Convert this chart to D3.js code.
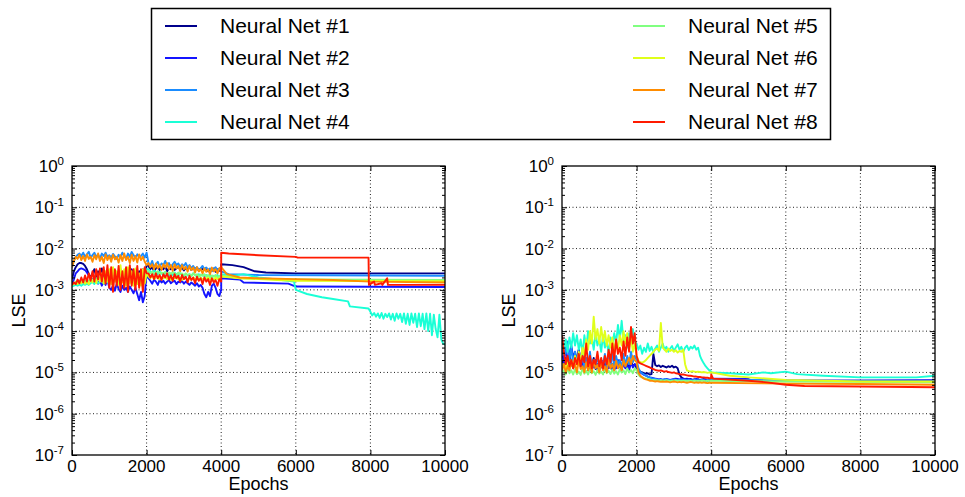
<!DOCTYPE html>
<html>
<head>
<meta charset="utf-8">
<script src="https://cdn.jsdelivr.net/npm/d3@7"></script>
<style>
  html, body { margin: 0; padding: 0; background: #fff; overflow: hidden; }
  svg { display: block; }
  text { font-family: "Liberation Sans", Arial, sans-serif; }
</style>
</head>
<body>
<div id="chart"></div>
<script>
const svgWidth = 965;
const svgHeight = 497;

const netNames = ['Neural Net #1', 'Neural Net #2', 'Neural Net #3', 'Neural Net #4',
                  'Neural Net #5', 'Neural Net #6', 'Neural Net #7', 'Neural Net #8'];
const netColors = ['#00008c', '#1414ff', '#1a8cff', '#1affd6', '#80ff80', '#e0ff1a', '#ff8c00', '#ff1a00'];

const epochTicks = [0, 2000, 4000, 6000, 8000, 10000];
const lseTicks = [1e0, 1e-1, 1e-2, 1e-3, 1e-4, 1e-5, 1e-6, 1e-7];

// values below are log10(LSE)
// "early" arrays: epochs 0..4000 every 50, "late" arrays: [epoch, log10] from 4000 on

// left panel
const leftNet1Early = [-2.75,-2.55,-2.45,-2.38,-2.35,-2.35,-2.37,-2.42,-2.5,-2.62,-2.7,
  -2.6,-2.5,-2.68,-2.55,-2.62,-2.48,-2.7,-2.58,-2.52,-2.66,-2.6,-2.5,-2.72,-2.56,-2.64,-2.5,-2.7,-2.6,-2.54,-2.68,-2.58,-2.5,-2.66,-2.6,-2.72,-2.55,-2.62,-2.5,-2.68,-2.4,
  -2.42,-2.5,-2.45,-2.55,-2.48,-2.44,-2.52,-2.46,-2.5,-2.43,-2.55,-2.47,-2.5,-2.45,-2.52,-2.48,-2.44,-2.5,-2.46,-2.53,-2.47,-2.5,-2.44,-2.52,-2.48,-2.5,-2.46,-2.54,-2.48,-2.5,-2.52,-2.47,-2.55,-2.5,-2.53,-2.48,-2.56,-2.5,-2.54,-2.45];
const leftNet1Late = [[4000,-2.38],[4300,-2.4],[4600,-2.45],[4900,-2.55],[5200,-2.58],[6000,-2.6],[10000,-2.6]];

const leftNet2Early = [-2.85,-2.75,-2.6,-2.55,-2.5,-2.48,-2.5,-2.52,-2.58,-2.65,-2.7,-2.75,-2.8,-2.72,-2.85,-2.78,-2.9,-2.8,-2.88,-2.75,-2.95,-3.0,-2.9,-3.02,-2.85,-2.98,-3.05,-2.9,-3.0,-2.95,-3.05,-2.92,-3.0,-3.08,-2.95,-3.1,-3.25,-3.05,-3.3,-3.15,-2.6,
  -2.72,-2.78,-2.85,-2.75,-2.8,-2.88,-2.76,-2.82,-2.78,-2.85,-2.8,-2.76,-2.84,-2.8,-2.78,-2.86,-2.8,-2.82,-2.78,-2.85,-2.8,-2.84,-2.88,-2.82,-2.86,-2.9,-2.84,-2.92,-2.88,-2.95,-3.1,-3.18,-3.05,-3.15,-2.9,-2.85,-2.95,-3.1,-3.15,-3.0];
const leftNet2Late = [[4000,-2.72],[4500,-2.75],[4600,-2.82],[5800,-2.85],[6000,-2.92],[10000,-2.93]];

const leftNet3Early = [-2.45,-2.3,-2.2,-2.15,-2.12,-2.18,-2.1,-2.2,-2.14,-2.08,-2.22,-2.16,-2.1,-2.2,-2.15,-2.24,-2.12,-2.18,-2.1,-2.2,-2.16,-2.22,-2.13,-2.19,-2.25,-2.15,-2.2,-2.1,-2.18,-2.24,-2.12,-2.2,-2.08,-2.16,-2.22,-2.14,-2.2,-2.18,-2.12,-2.22,-2.1,
  -2.35,-2.42,-2.3,-2.45,-2.38,-2.32,-2.44,-2.36,-2.4,-2.3,-2.42,-2.35,-2.45,-2.38,-2.32,-2.4,-2.36,-2.44,-2.38,-2.42,-2.35,-2.45,-2.4,-2.48,-2.42,-2.5,-2.45,-2.52,-2.48,-2.42,-2.5,-2.46,-2.52,-2.48,-2.55,-2.5,-2.45,-2.52,-2.48,-2.55];
const leftNet3Late = [[4000,-2.55],[4200,-2.62],[5000,-2.64],[10000,-2.66]];

const leftNet4Early = [-2.92,-2.9,-2.88,-2.9,-2.87,-2.9,-2.86,-2.88,-2.85,-2.88,-2.84,-2.8,-2.86,-2.78,-2.84,-2.8,-2.75,-2.85,-2.78,-2.82,-2.76,-2.84,-2.8,-2.74,-2.82,-2.78,-2.85,-2.76,-2.8,-2.84,-2.78,-2.82,-2.75,-2.8,-2.86,-2.78,-2.82,-2.76,-2.84,-2.8,-2.5,
  -2.5,-2.55,-2.6,-2.52,-2.58,-2.62,-2.56,-2.6,-2.64,-2.58,-2.62,-2.66,-2.6,-2.64,-2.58,-2.62,-2.66,-2.6,-2.63,-2.67,-2.61,-2.65,-2.62,-2.66,-2.6,-2.64,-2.68,-2.62,-2.66,-2.63,-2.67,-2.64,-2.68,-2.65,-2.7,-2.66,-2.68,-2.64,-2.7,-2.66];
const leftNet4Late = [[4000,-2.62],[4300,-2.66],[4600,-2.62],[5000,-2.7],[5500,-2.75],[5950,-2.8],[6000,-3.0],[6300,-3.1],[6700,-3.18],[7000,-3.22],[7400,-3.28],[7450,-3.4],[7950,-3.45],[8000,-3.53],
  [8050,-3.62],[8100,-3.56],[8150,-3.65],[8200,-3.57],[8250,-3.68],[8300,-3.56],[8350,-3.7],[8400,-3.58],[8450,-3.66],[8500,-3.57],[8550,-3.72],[8600,-3.58],[8650,-3.75],[8700,-3.57],[8750,-3.7],[8800,-3.58],[8850,-3.78],[8900,-3.57],[8950,-3.82],[9000,-3.58],
  [9050,-3.85],[9100,-3.57],[9150,-3.8],[9200,-3.58],[9250,-3.9],[9300,-3.57],[9350,-3.88],[9400,-3.58],[9450,-3.95],[9500,-3.57],[9550,-4.0],[9600,-3.58],[9650,-4.1],[9700,-3.6],[9750,-3.95],[9800,-4.15],[9850,-3.6],
  [9900,-4.2],[9950,-4.3],[10000,-4.33]];

const leftNet5Early = [-2.9,-2.85,-2.8,-2.82,-2.78,-2.84,-2.76,-2.8,-2.74,-2.82,-2.7,-2.78,-2.72,-2.8,-2.68,-2.76,-2.7,-2.82,-2.66,-2.75,-2.7,-2.8,-2.68,-2.76,-2.72,-2.82,-2.7,-2.78,-2.66,-2.76,-2.72,-2.8,-2.68,-2.75,-2.7,-2.8,-2.72,-2.78,-2.7,-2.76,-2.55,
  -2.55,-2.6,-2.56,-2.62,-2.58,-2.55,-2.62,-2.58,-2.6,-2.56,-2.63,-2.58,-2.62,-2.57,-2.6,-2.64,-2.58,-2.62,-2.6,-2.65,-2.6,-2.64,-2.62,-2.66,-2.6,-2.65,-2.62,-2.68,-2.63,-2.66,-2.62,-2.68,-2.64,-2.7,-2.65,-2.68,-2.64,-2.7,-2.66,-2.68];
const leftNet5Late = [[4000,-2.65],[4500,-2.72],[6000,-2.75],[10000,-2.76]];

const leftNet6Early = [-2.88,-2.85,-2.82,-2.86,-2.8,-2.84,-2.78,-2.85,-2.8,-2.86,-2.75,-2.82,-2.7,-2.84,-2.65,-2.8,-2.6,-2.85,-2.55,-2.8,-2.5,-2.86,-2.45,-2.8,-2.55,-2.88,-2.4,-2.82,-2.5,-2.9,-2.45,-2.85,-2.55,-2.9,-2.48,-2.86,-2.6,-2.9,-2.5,-2.85,-2.6,
  -2.68,-2.72,-2.66,-2.74,-2.7,-2.68,-2.75,-2.7,-2.72,-2.68,-2.74,-2.7,-2.76,-2.7,-2.72,-2.68,-2.74,-2.7,-2.76,-2.72,-2.7,-2.75,-2.72,-2.76,-2.7,-2.74,-2.72,-2.76,-2.7,-2.75,-2.72,-2.74,-2.7,-2.76,-2.72,-2.75,-2.7,-2.74,-2.72,-2.7];
const leftNet6Late = [[4000,-2.68],[4500,-2.72],[5500,-2.76],[6000,-2.78],[10000,-2.79]];

const leftNet7Early = [-2.45,-2.3,-2.2,-2.25,-2.15,-2.28,-2.18,-2.3,-2.14,-2.25,-2.2,-2.32,-2.16,-2.26,-2.12,-2.3,-2.2,-2.35,-2.14,-2.28,-2.18,-2.32,-2.15,-2.26,-2.2,-2.34,-2.16,-2.3,-2.12,-2.28,-2.2,-2.35,-2.15,-2.3,-2.18,-2.34,-2.14,-2.28,-2.2,-2.32,-2.4,
  -2.35,-2.45,-2.38,-2.5,-2.36,-2.48,-2.4,-2.52,-2.38,-2.46,-2.35,-2.5,-2.4,-2.54,-2.38,-2.48,-2.42,-2.55,-2.4,-2.5,-2.44,-2.56,-2.42,-2.52,-2.46,-2.58,-2.45,-2.55,-2.5,-2.6,-2.48,-2.56,-2.5,-2.62,-2.46,-2.55,-2.5,-2.6,-2.48,-2.45];
const leftNet7Late = [[4000,-2.45],[4150,-2.62],[4500,-2.7],[5000,-2.72],[6000,-2.74],[7000,-2.76],[8000,-2.8],[10000,-2.82]];

const leftNet8Early = [-2.88,-2.82,-2.86,-2.75,-2.84,-2.7,-2.82,-2.65,-2.8,-2.6,-2.78,-2.55,-2.8,-2.5,-2.75,-2.48,-2.8,-2.45,-2.85,-2.4,-2.95,-2.45,-3.05,-2.5,-2.9,-2.42,-3.0,-2.55,-2.95,-2.45,-3.05,-2.4,-2.9,-2.5,-3.0,-2.42,-2.95,-2.5,-3.05,-2.45,-2.6,
  -2.6,-2.7,-2.62,-2.74,-2.6,-2.72,-2.64,-2.76,-2.62,-2.7,-2.6,-2.75,-2.65,-2.78,-2.62,-2.72,-2.66,-2.8,-2.64,-2.74,-2.68,-2.82,-2.66,-2.76,-2.7,-2.84,-2.68,-2.78,-2.72,-2.86,-2.7,-2.8,-2.74,-2.88,-2.72,-2.82,-2.76,-2.9,-2.74,-2.8];
const leftNet8Late = [[4000,-2.1],[4200,-2.12],[5000,-2.16],[6000,-2.2],[6050,-2.22],[7950,-2.22],[7960,-2.88],[8100,-2.8],[8120,-2.88],[8300,-2.84],[8320,-2.88],[8450,-2.72],[8470,-2.88],[10000,-2.88]];

// right panel
const rightNet1Early = [-4.7,-4.8,-4.65,-4.85,-4.6,-4.75,-4.9,-4.55,-4.7,-4.45,-4.8,-4.6,-4.88,-4.7,-4.95,-4.75,-4.85,-4.65,-4.92,-4.8,-4.95,-4.7,-4.88,-4.78,-4.95,-4.72,-4.9,-4.8,-4.95,-4.7,-4.88,-4.75,-4.92,-4.68,-4.85,-4.78,-4.9,-4.72,-4.85,-4.8,-4.9,
  -4.95,-4.98,-5.0,-5.02,-5.03,-5.02,-5.05,-5.04,-4.55,-4.82,-4.85,-4.83,-4.87,-4.84,-4.86,-4.88,-4.85,-4.87,-4.84,-4.88,-4.86,-4.9,-5.05,-5.12,-5.15,-5.16,-5.15,-5.17,-5.16,-5.18,-5.17,-5.18,-5.17,-5.19,-5.18,-5.19,-5.18,-5.2,-5.19,-5.18];
const rightNet1Late = [[4000,-5.18],[5000,-5.2],[10000,-5.2]];

const rightNet2Early = [-4.5,-4.75,-4.4,-4.7,-4.55,-4.35,-4.65,-4.5,-4.8,-4.45,-4.7,-4.9,-4.6,-4.85,-4.7,-4.92,-4.75,-4.88,-4.7,-4.95,-4.8,-4.88,-4.72,-4.95,-4.82,-4.9,-4.75,-4.95,-4.8,-4.9,-4.7,-4.85,-4.95,-4.78,-4.9,-4.82,-4.95,-4.75,-4.88,-4.8,-4.85,
  -4.95,-5.0,-5.03,-5.06,-5.08,-5.1,-5.12,-5.13,-5.14,-5.15,-5.16,-5.17,-5.16,-5.18,-5.17,-5.16,-5.17,-5.18,-5.17,-5.16,-5.15,-5.16,-5.17,-5.16,-5.15,-5.16,-5.17,-5.16,-5.17,-5.18,-5.17,-5.16,-5.17,-5.18,-5.17,-5.16,-5.17,-5.18,-5.17,-5.15];
const rightNet2Late = [[4000,-5.15],[5000,-5.16],[5100,-5.2],[8000,-5.2],[10000,-5.19]];

const rightNet3Early = [-4.6,-4.3,-4.55,-4.25,-4.7,-4.4,-4.8,-4.5,-4.75,-4.6,-4.85,-4.55,-4.9,-4.65,-4.8,-4.5,-4.9,-4.7,-4.85,-4.6,-4.88,-4.7,-4.82,-4.55,-4.9,-4.65,-4.85,-4.5,-4.88,-4.6,-4.8,-4.7,-4.9,-4.55,-4.85,-4.6,-4.8,-4.5,-4.75,-4.6,-4.7,
  -4.9,-4.98,-5.02,-5.05,-5.08,-5.1,-5.12,-5.14,-5.15,-5.16,-5.17,-5.18,-5.17,-5.18,-5.16,-5.17,-5.18,-5.19,-5.18,-5.17,-5.18,-5.19,-5.18,-5.17,-5.18,-5.19,-5.18,-5.19,-5.2,-5.19,-5.18,-5.19,-5.2,-5.19,-5.18,-5.19,-5.2,-5.19,-5.18,-5.17];
const rightNet3Late = [[4000,-5.17],[6000,-5.2],[10000,-5.22]];

const rightNet4Early = [-4.3,-4.45,-4.2,-4.5,-4.15,-4.4,-4.05,-4.35,-4.1,-4.45,-4.2,-4.55,-4.1,-4.4,-4.0,-4.3,-4.15,-4.45,-4.05,-4.35,-4.2,-4.5,-4.1,-4.4,-4.25,-4.55,-4.15,-4.35,-4.05,-4.3,-3.85,-4.2,-3.75,-4.25,-4.1,-4.4,-4.05,-4.3,-3.95,-4.25,-4.3,
  -4.45,-4.35,-4.55,-4.4,-4.5,-4.3,-4.48,-4.38,-4.52,-4.42,-4.35,-4.5,-4.4,-4.3,-4.45,-4.38,-4.5,-4.42,-4.36,-4.48,-4.4,-4.32,-4.45,-4.38,-4.5,-4.4,-4.35,-4.46,-4.38,-4.42,-4.35,-4.45,-4.4,-4.6,-4.7,-4.78,-4.85,-4.9,-4.95,-4.98];
const rightNet4Late = [[4000,-5.0],[4500,-5.02],[5000,-5.05],[5400,-5.0],[5600,-5.02],[6000,-4.98],[6300,-5.04],[7000,-5.08],[8000,-5.12],[9500,-5.12],[10000,-5.08]];

const rightNet5Early = [-5.0,-4.95,-5.05,-4.9,-5.02,-4.95,-5.05,-4.92,-5.04,-4.98,-5.06,-4.9,-5.03,-4.96,-5.05,-4.92,-5.02,-4.97,-5.06,-4.94,-5.03,-4.98,-5.05,-4.9,-5.02,-4.96,-5.04,-4.93,-5.03,-4.97,-5.05,-4.92,-5.0,-4.95,-5.04,-4.9,-5.0,-4.94,-5.02,-4.9,-4.95,
  -5.05,-5.1,-5.12,-5.14,-5.15,-5.16,-5.17,-5.18,-5.18,-5.19,-5.19,-5.2,-5.19,-5.2,-5.2,-5.19,-5.2,-5.21,-5.2,-5.2,-5.19,-5.2,-5.2,-5.21,-5.2,-5.2,-5.21,-5.2,-5.2,-5.21,-5.2,-5.21,-5.2,-5.21,-5.2,-5.2,-5.21,-5.2,-5.21,-5.2];
const rightNet5Late = [[4000,-5.2],[6000,-5.22],[8000,-5.23],[10000,-5.24]];

const rightNet6Early = [-4.85,-4.8,-4.9,-4.75,-4.88,-4.7,-4.85,-4.6,-4.8,-4.5,-4.75,-4.4,-4.6,-4.2,-4.45,-4.0,-4.3,-3.65,-4.2,-3.95,-4.3,-3.9,-4.25,-4.0,-4.35,-4.1,-4.4,-4.15,-4.5,-4.2,-4.45,-4.1,-4.35,-4.0,-4.3,-4.05,-4.4,-4.15,-4.5,-4.3,-4.6,
  -4.72,-4.75,-4.76,-4.74,-4.7,-4.65,-4.6,-4.55,-4.5,-4.45,-4.42,-4.48,-3.8,-4.4,-4.45,-4.5,-4.42,-4.48,-4.45,-4.5,-4.46,-4.52,-4.48,-4.5,-4.45,-4.8,-4.95,-4.97,-4.98,-4.97,-4.98,-4.99,-4.98,-4.99,-5.0,-4.99,-5.0,-5.01,-5.0,-5.0];
const rightNet6Late = [[4000,-5.0],[4500,-5.08],[5000,-5.12],[6000,-5.18],[8000,-5.22],[10000,-5.22]];

const rightNet7Early = [-4.95,-4.8,-5.0,-4.85,-4.95,-4.75,-4.9,-4.8,-5.0,-4.7,-4.92,-4.85,-5.0,-4.75,-4.95,-4.8,-5.0,-4.7,-4.9,-4.82,-5.0,-4.75,-4.95,-4.85,-5.0,-4.7,-4.9,-4.8,-4.95,-4.72,-4.9,-4.8,-4.95,-4.7,-4.85,-4.75,-4.65,-4.8,-4.6,-4.7,-4.75,
  -5.0,-5.08,-5.12,-5.15,-5.17,-5.18,-5.2,-5.2,-5.21,-5.22,-5.21,-5.22,-5.23,-5.22,-5.23,-5.22,-5.23,-5.24,-5.23,-5.22,-5.23,-5.24,-5.23,-5.24,-5.23,-5.24,-5.25,-5.24,-5.23,-5.24,-5.25,-5.24,-5.25,-5.24,-5.25,-5.24,-5.25,-5.26,-5.25,-5.25];
const rightNet7Late = [[4000,-5.25],[6000,-5.27],[8000,-5.28],[10000,-5.3]];

const rightNet8Early = [-4.1,-4.5,-4.8,-4.6,-4.85,-4.7,-4.9,-4.65,-4.8,-4.55,-4.85,-4.6,-4.75,-4.3,-4.85,-4.6,-4.9,-4.7,-4.8,-4.5,-4.85,-4.65,-4.9,-4.6,-4.8,-4.45,-4.75,-4.3,-4.7,-4.2,-4.55,-4.4,-4.7,-4.25,-4.6,-4.15,-4.5,-3.9,-4.3,-4.05,-4.6,
  -4.75,-4.78,-4.8,-4.82,-4.84,-4.86,-4.88,-4.9,-4.92,-4.94,-4.95,-4.96,-4.95,-4.97,-4.98,-4.97,-4.99,-5.0,-5.01,-5.0,-5.02,-5.03,-5.04,-5.05,-5.05,-5.06,-5.07,-5.08,-5.08,-5.09,-5.1,-5.1,-5.11,-5.11,-5.12,-5.12,-5.13,-5.13,-5.14,-5.14];
const rightNet8Late = [[4000,-5.05],[4050,-5.15],[5000,-5.2],[5500,-5.24],[6000,-5.3],[6500,-5.33],[8000,-5.34],[10000,-5.36]];

const leftEarly = [leftNet1Early, leftNet2Early, leftNet3Early, leftNet4Early, leftNet5Early, leftNet6Early, leftNet7Early, leftNet8Early];
const leftLate = [leftNet1Late, leftNet2Late, leftNet3Late, leftNet4Late, leftNet5Late, leftNet6Late, leftNet7Late, leftNet8Late];
const rightEarly = [rightNet1Early, rightNet2Early, rightNet3Early, rightNet4Early, rightNet5Early, rightNet6Early, rightNet7Early, rightNet8Early];
const rightLate = [rightNet1Late, rightNet2Late, rightNet3Late, rightNet4Late, rightNet5Late, rightNet6Late, rightNet7Late, rightNet8Late];

// join early (0..4000) and late parts, convert log10 -> LSE
const buildSeries = (early, late) => {
    const step = 4000 / (early.length - 1);
    const pts = early.map((v, i) => [i * step, v]);
    late.forEach(p => pts.push(p));
    return pts.map(p => ({ epoch: p[0], lse: Math.pow(10, p[1]) }));
};

const svg = d3.select('#chart')
  .append('svg')
    .attr('width', svgWidth)
    .attr('height', svgHeight);

svg.append('rect')
    .attr('width', svgWidth)
    .attr('height', svgHeight)
    .attr('fill', '#fff');

const panelTop = 166;
const innerWidth = 373;
const innerHeight = 289;

// one clip rect for the plot area, shared by both panels
svg.append('defs').append('clipPath')
    .attr('id', 'plotClip')
  .append('rect')
    .attr('width', innerWidth)
    .attr('height', innerHeight);

// legend
const legend = svg.append('g');
legend.append('rect')
    .attr('x', 151.5).attr('y', 8.5)
    .attr('width', 679).attr('height', 131)
    .attr('fill', '#fff')
    .attr('stroke', '#000')
    .attr('stroke-width', 1.5);

netNames.forEach((name, i) => {
    const col = Math.floor(i / 4);
    const row = i % 4;
    const x0 = col === 0 ? 165 : 633;
    const yy = 26 + row * 32;
    legend.append('line')
        .attr('x1', x0).attr('x2', x0 + 32)
        .attr('y1', yy).attr('y2', yy)
        .attr('stroke', netColors[i])
        .attr('stroke-width', 2);
    legend.append('text')
        .attr('x', x0 + 55)
        .attr('y', yy + 7)
        .attr('font-size', 21)
        .attr('fill', '#000')
        .text(name);
});

const minorTicks = [];
for (let k = -7; k < 0; k++) {
    for (let m = 2; m <= 9; m++) minorTicks.push(m * Math.pow(10, k));
}

// tick marks only, no labels
const tickOnly = (sel, axis) => {
    sel.call(axis);
    sel.selectAll('text').remove();
    sel.select('.domain').remove();
};

const render = (left, early, late) => {
    const g = svg.append('g')
        .attr('transform', `translate(${left}, ${panelTop})`);

    const xScale = d3.scaleLinear()
        .domain([0, 10000])
        .range([0, innerWidth]);

    const yScale = d3.scaleLog()
        .domain([1e-7, 1])
        .range([innerHeight, 0]);

    // dotted grid
    g.append('g').selectAll('line').data(epochTicks.slice(1, -1))
      .enter().append('line')
        .attr('x1', d => xScale(d)).attr('x2', d => xScale(d))
        .attr('y1', 0).attr('y2', innerHeight)
        .attr('stroke', '#222').attr('stroke-width', 1)
        .attr('stroke-dasharray', '1,2.5');
    g.append('g').selectAll('line').data(lseTicks.slice(1, -1))
      .enter().append('line')
        .attr('x1', 0).attr('x2', innerWidth)
        .attr('y1', d => yScale(d)).attr('y2', d => yScale(d))
        .attr('stroke', '#222').attr('stroke-width', 1)
        .attr('stroke-dasharray', '1,2.5');

    // series
    const lineGen = d3.line()
        .x(d => xScale(d.epoch))
        .y(d => yScale(d.lse));

    const lines = g.append('g').attr('clip-path', 'url(#plotClip)');
    early.forEach((arr, i) => {
        lines.append('path')
            .datum(buildSeries(arr, late[i]))
            .attr('fill', 'none')
            .attr('stroke', netColors[i])
            .attr('stroke-width', 1.9)
            .attr('stroke-linejoin', 'round')
            .attr('d', lineGen);
    });

    // tick marks on all four sides
    tickOnly(g.append('g').attr('transform', `translate(0,${innerHeight})`),
        d3.axisBottom(xScale).tickValues(epochTicks).tickSize(-5));
    tickOnly(g.append('g'), d3.axisTop(xScale).tickValues(epochTicks).tickSize(-5));
    tickOnly(g.append('g'), d3.axisLeft(yScale).tickValues(lseTicks).tickSize(-5));
    tickOnly(g.append('g'), d3.axisLeft(yScale).tickValues(minorTicks).tickSize(-3));
    tickOnly(g.append('g').attr('transform', `translate(${innerWidth},0)`),
        d3.axisRight(yScale).tickValues(lseTicks).tickSize(-5));
    tickOnly(g.append('g').attr('transform', `translate(${innerWidth},0)`),
        d3.axisRight(yScale).tickValues(minorTicks).tickSize(-3));

    g.append('rect')
        .attr('width', innerWidth)
        .attr('height', innerHeight)
        .attr('fill', 'none')
        .attr('stroke', '#000')
        .attr('stroke-width', 1.3);

    // labels positioned in page coordinates
    const labels = svg.append('g');

    labels.selectAll(null).data(epochTicks)
      .enter().append('text')
        .attr('x', d => left + xScale(d))
        .attr('y', panelTop + innerHeight + 17)
        .attr('text-anchor', 'middle')
        .attr('font-size', 17)
        .attr('fill', '#000')
        .text(d => d);

    // y tick labels: "10" plus a raised exponent
    lseTicks.forEach(d => {
        const yy = panelTop + yScale(d);
        const expText = labels.append('text')
            .attr('x', left - 8)
            .attr('y', yy - 1)
            .attr('text-anchor', 'end')
            .attr('font-size', 11.5)
            .attr('fill', '#000')
            .text(Math.round(Math.log10(d)));
        const w = expText.node().getComputedTextLength();
        labels.append('text')
            .attr('x', left - 8 - w)
            .attr('y', yy + 6)
            .attr('text-anchor', 'end')
            .attr('font-size', 17)
            .attr('fill', '#000')
            .text('10');
    });

    labels.append('text')
        .attr('x', left + innerWidth / 2)
        .attr('y', panelTop + innerHeight + 35)
        .attr('text-anchor', 'middle')
        .attr('font-size', 18)
        .attr('fill', '#000')
        .text('Epochs');

    labels.append('text')
        .attr('transform', `translate(${left - 47}, ${panelTop + innerHeight / 2}) rotate(-90)`)
        .attr('text-anchor', 'middle')
        .attr('font-size', 18)
        .attr('fill', '#000')
        .text('LSE');
};

render(72, leftEarly, leftLate);
render(562, rightEarly, rightLate);
</script>
</body>
</html>
